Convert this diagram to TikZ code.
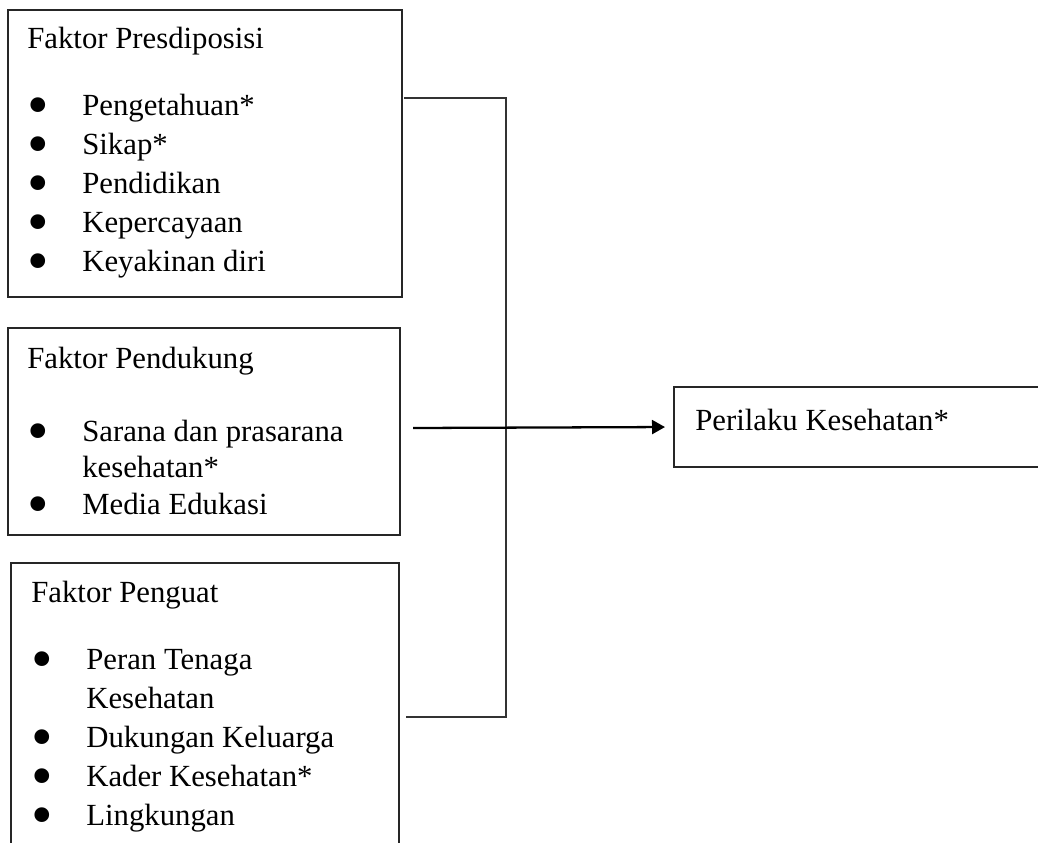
\documentclass[tikz,border=0pt]{standalone}
\usepackage{fontspec}
\setmainfont{Liberation Serif}
\usetikzlibrary{arrows.meta,positioning}

\newcommand{\bul}{\makebox[1.1cm][l]{\smash{\raisebox{-5.6pt}{\scalebox{2.0}{\textbullet}}}}}
\newcommand{\cont}{\hspace*{1.1cm}}

\begin{document}
\begin{tikzpicture}[
    x=0.02cm, y=-0.02cm,
    every node/.style={font=\fontsize{17.5}{22.2}\selectfont},
    frame/.style={draw=black!85, line width=1.1pt, anchor=north west, inner sep=0pt, outer sep=0pt},
    boxtext/.style={anchor=north west, align=left, inner sep=0pt},
    link/.style={draw=black!80, line width=0.6pt},
    flow/.style={-{Triangle[length=0.26cm, width=0.28cm]}, line width=1.3pt, shorten >=0.18cm}
]
\useasboundingbox (0,0) rectangle (1038,842);
\clip (0,0) rectangle (1038,842);

\node[frame, minimum width=7.88cm, minimum height=5.74cm] (predis) at (8,10) {};
\node[frame, minimum width=7.84cm, minimum height=4.14cm] (enabling) at (8,328) {};
\node[frame, minimum width=7.76cm, minimum height=6cm] (reinforcing) at (11,563) {};
\node[frame, minimum width=8cm, minimum height=1.6cm] (behaviour) at (674,387) {};

\node[boxtext] (predistext) at (27,27) {Faktor Presdiposisi\\[0.56cm]
    \bul Pengetahuan*\\
    \bul Sikap*\\
    \bul Pendidikan\\
    \bul Kepercayaan\\
    \bul Keyakinan diri};
\node[boxtext, font=\fontsize{17.5}{20.8}\selectfont] (enablingtext) at (27,347) {Faktor Pendukung\\[0.72cm]
    \bul Sarana dan prasarana\\
    \cont kesehatan*\\
    \bul Media Edukasi};
\node[boxtext] (reinforcingtext) at (31,581) {Faktor Penguat\\[0.56cm]
    \bul Peran Tenaga\\
    \cont Kesehatan\\
    \bul Dukungan Keluarga\\
    \bul Kader Kesehatan*\\
    \bul Lingkungan};
\node[boxtext] (behaviourtext) at (695,409) {Perilaku Kesehatan*};

\coordinate (toptail) at (404,98);
\coordinate (topbend) at (506,98);
\coordinate (lowbend) at (506,717);
\coordinate (lowtail) at (406,717);
\coordinate (midtail) at (413,428);
\draw[link] (toptail) -- (topbend) -- (lowbend) -- (lowtail);
\draw[flow] (midtail) -- (behaviour.west);
\end{tikzpicture}
\end{document}
